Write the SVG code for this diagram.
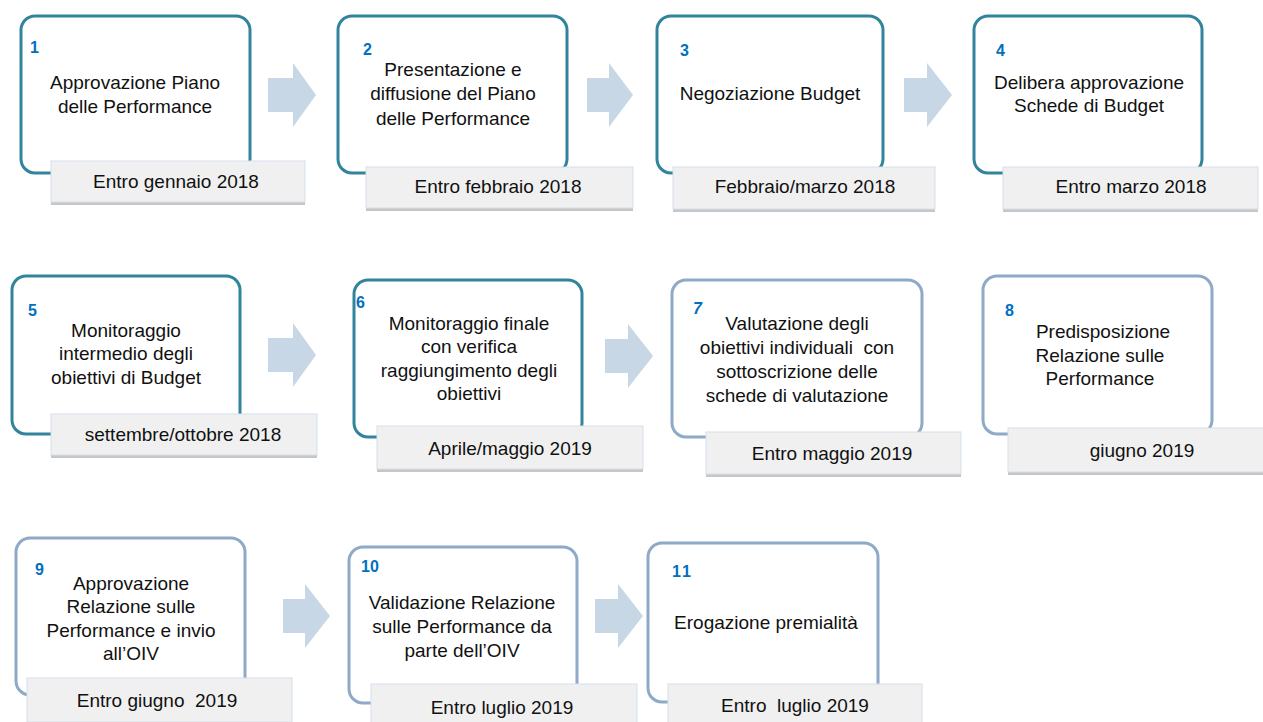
<svg xmlns="http://www.w3.org/2000/svg" width="1263" height="722" viewBox="0 0 1263 722">
<style>
.bx{fill:#fff;stroke-width:3}
.t{stroke:#31849b}
.l{stroke:#8eaac6}
.lbl{fill:#f0f0f0;stroke:#d3e0ec;stroke-width:1}
.sh{fill:#c6c6c6}
.arr{fill:#c8d7e6}
.num{font-family:"Liberation Sans",Arial,sans-serif;font-size:16px;font-weight:bold;fill:#0070c0}
.txt{font-family:"Liberation Sans",Arial,sans-serif;font-size:19px;fill:#111;text-anchor:middle}
.dt{font-family:"Liberation Sans",Arial,sans-serif;font-size:19px;fill:#111;text-anchor:middle}
</style>
<rect width="1263" height="722" fill="#fff"/>
<g id="connectors">
<path class="arr" d="M268 78H293V63L316 95L293 127V112H268Z"/>
<path class="arr" d="M587 78H609V63L633 95L609 127V112H587Z"/>
<path class="arr" d="M904 78H927V63L952 95L927 127V112H904Z"/>
<path class="arr" d="M268 338H293V323L316 355L293 387V372H268Z"/>
<path class="arr" d="M605 339H628V324L653 356L628 388V373H605Z"/>
<path class="arr" d="M283 599H305V584L330 616L305 648V633H283Z"/>
<path class="arr" d="M595 599H618V584L643 616L618 648V633H595Z"/>
</g>
<g id="n1">
<rect class="bx t" x="21" y="16" width="229" height="157" rx="14"/>
<text class="num" x="30" y="53">1</text>
<text class="txt" x="135" y="89">Approvazione Piano</text>
<text class="txt" x="135" y="113">delle Performance</text>
<rect class="sh" x="51" y="164" width="254" height="41"/>
<rect class="lbl" x="51" y="161" width="254" height="41"/>
<text class="dt" x="176" y="188">Entro gennaio 2018</text>
</g>
<g id="n2">
<rect class="bx t" x="338" y="16" width="229" height="157" rx="14"/>
<text class="num" x="363" y="55">2</text>
<text class="txt" x="453" y="76">Presentazione e</text>
<text class="txt" x="453" y="100">diffusione del Piano</text>
<text class="txt" x="453" y="125">delle Performance</text>
<rect class="sh" x="366" y="170" width="267" height="41"/>
<rect class="lbl" x="366" y="167" width="267" height="41"/>
<text class="dt" x="498" y="193">Entro febbraio 2018</text>
</g>
<g id="n3">
<rect class="bx t" x="657" y="16" width="226" height="157" rx="14"/>
<text class="num" x="680" y="56">3</text>
<text class="txt" x="770" y="100">Negoziazione Budget</text>
<rect class="sh" x="673" y="170" width="262" height="42"/>
<rect class="lbl" x="673" y="167" width="262" height="42"/>
<text class="dt" x="805" y="193">Febbraio/marzo 2018</text>
</g>
<g id="n4">
<rect class="bx t" x="974" y="16" width="228" height="157" rx="14"/>
<text class="num" x="996" y="56">4</text>
<text class="txt" x="1089" y="89">Delibera approvazione</text>
<text class="txt" x="1089" y="112">Schede di Budget</text>
<rect class="sh" x="1003" y="170" width="255" height="42"/>
<rect class="lbl" x="1003" y="167" width="255" height="42"/>
<text class="dt" x="1131" y="193">Entro marzo 2018</text>
</g>
<g id="n5">
<rect class="bx t" x="12" y="276" width="228" height="158" rx="14"/>
<text class="num" x="28" y="316">5</text>
<text class="txt" x="126" y="337">Monitoraggio</text>
<text class="txt" x="126" y="360">intermedio degli</text>
<text class="txt" x="126" y="384">obiettivi di Budget</text>
<rect class="sh" x="51" y="417" width="266" height="41"/>
<rect class="lbl" x="51" y="414" width="266" height="41"/>
<text class="dt" x="183" y="441">settembre/ottobre 2018</text>
</g>
<g id="n6">
<rect class="bx t" x="354" y="280" width="228" height="157" rx="14"/>
<text class="num" x="356" y="308">6</text>
<text class="txt" x="469" y="330">Monitoraggio finale</text>
<text class="txt" x="469" y="353">con verifica</text>
<text class="txt" x="469" y="377">raggiungimento degli</text>
<text class="txt" x="469" y="400">obiettivi</text>
<rect class="sh" x="377" y="429" width="266" height="43"/>
<rect class="lbl" x="377" y="426" width="266" height="43"/>
<text class="dt" x="510" y="455">Aprile/maggio 2019</text>
</g>
<g id="n7">
<rect class="bx l" x="672" y="280" width="250" height="157" rx="14"/>
<text class="num" x="693" y="314" font-style="italic">7</text>
<text class="txt" x="797" y="330">Valutazione degli</text>
<text class="txt" x="797" y="354" xml:space="preserve">obiettivi individuali  con</text>
<text class="txt" x="797" y="378">sottoscrizione delle</text>
<text class="txt" x="797" y="402">schede di valutazione</text>
<rect class="sh" x="706" y="435" width="255" height="42"/>
<rect class="lbl" x="706" y="432" width="255" height="42"/>
<text class="dt" x="832" y="460">Entro maggio 2019</text>
</g>
<g id="n8">
<rect class="bx l" x="983" y="276" width="229" height="158" rx="14"/>
<text class="num" x="1005" y="316">8</text>
<text class="txt" x="1103" y="338">Predisposizione</text>
<text class="txt" x="1100" y="362">Relazione sulle</text>
<text class="txt" x="1100" y="385">Performance</text>
<rect class="sh" x="1008" y="431" width="262" height="44"/>
<rect class="lbl" x="1008" y="428" width="262" height="44"/>
<text class="dt" x="1142" y="457">giugno 2019</text>
</g>
<g id="n9">
<rect class="bx l" x="16" y="538" width="229" height="157" rx="14"/>
<text class="num" x="35" y="575">9</text>
<text class="txt" x="131" y="590">Approvazione</text>
<text class="txt" x="131" y="613">Relazione sulle</text>
<text class="txt" x="131" y="637">Performance e invio</text>
<text class="txt" x="131" y="660">all’OIV</text>
<rect class="sh" x="27" y="681" width="265" height="44"/>
<rect class="lbl" x="27" y="678" width="265" height="44"/>
<text class="dt" x="157" y="707" xml:space="preserve">Entro giugno  2019</text>
</g>
<g id="n10">
<rect class="bx l" x="349" y="547" width="228" height="156" rx="14"/>
<text class="num" x="361" y="572">10</text>
<text class="txt" x="462" y="609">Validazione Relazione</text>
<text class="txt" x="462" y="633">sulle Performance da</text>
<text class="txt" x="462" y="657">parte dell’OIV</text>
<rect class="sh" x="371" y="687" width="266" height="40"/>
<rect class="lbl" x="371" y="684" width="266" height="40"/>
<text class="dt" x="502" y="714">Entro luglio 2019</text>
</g>
<g id="n11">
<rect class="bx l" x="648" y="543" width="230" height="159" rx="14"/>
<text class="num" x="672" y="577" letter-spacing="2">11</text>
<text class="txt" x="766" y="629">Erogazione premialità</text>
<rect class="sh" x="668" y="687" width="254" height="40"/>
<rect class="lbl" x="668" y="684" width="254" height="40"/>
<text class="dt" x="795" y="712" xml:space="preserve">Entro  luglio 2019</text>
</g>
</svg>
